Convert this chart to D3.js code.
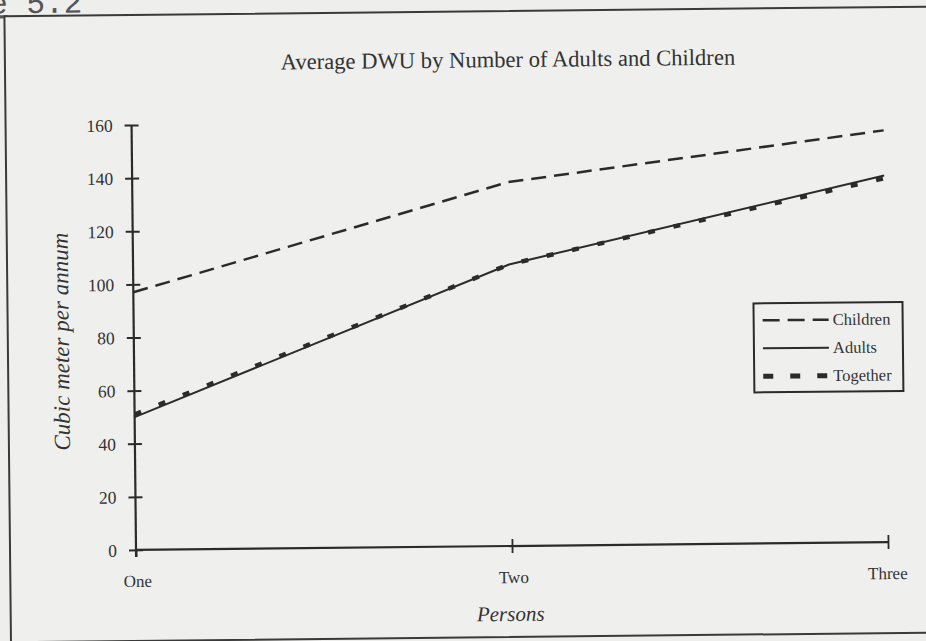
<!DOCTYPE html>
<html>
<head>
<meta charset="utf-8">
<script src="https://cdn.jsdelivr.net/npm/d3@7/dist/d3.min.js"></script>
<style>
  html, body { margin: 0; padding: 0; background: #eeeeec; }
  svg { display: block; }
</style>
</head>
<body>
<svg id="chart" width="926" height="641"></svg>
<script>
// Average DWU (cubic meters per annum) by household size
const categories = ["One", "Two", "Three"];
const children = [97, 137, 155];
const adults = [50, 106, 138];
const together = [51, 106, 137];
const yTicks = [0, 20, 40, 60, 80, 100, 120, 140, 160];
const seriesNames = ["Children", "Adults", "Together"];

const W = 926, H = 641;
const serif = "'Liberation Serif', 'Times New Roman', serif";
const ink = "#2b2b2b";

const svg = d3.select("#chart");
svg.append("rect").attr("width", W).attr("height", H).attr("fill", "#eeeeec");

// the whole sheet sits at a slight tilt
const page = svg.append("g").attr("transform", "rotate(-0.6, 512, 546)");

// figure number above the frame
page.append("text")
  .attr("x", 88).attr("y", 8)
  .attr("text-anchor", "end")
  .attr("font-family", "'Liberation Mono', 'Courier New', monospace")
  .attr("font-size", 31)
  .attr("fill", "#555")
  .html('<tspan text-decoration="underline">Figure</tspan> 5.2');

// frame
page.append("rect")
  .attr("x", 10).attr("y", 11).attr("width", 940).attr("height", 626)
  .attr("fill", "#efefed").attr("stroke", "#3a3a3a").attr("stroke-width", 2);

const x = d3.scalePoint().domain(categories).range([136, 888]);
const y = d3.scaleLinear().domain([0, 160]).range([546, 121]);

// title
page.append("text")
  .attr("x", 513).attr("y", 67)
  .attr("text-anchor", "middle")
  .attr("font-family", serif).attr("font-size", 22.6)
  .attr("fill", "#333")
  .text("Average DWU by Number of Adults and Children");

// y axis
const yAxis = page.append("g")
  .attr("transform", `translate(${x("One")},0)`)
  .call(d3.axisLeft(y).tickValues(yTicks).tickSize(7).tickSizeOuter(0).tickPadding(12));
yAxis.select(".domain").attr("stroke", ink).attr("stroke-width", 2.2)
  .attr("d", `M0,${y(160)}V${y(0) + 7}`);
yAxis.selectAll(".tick line").attr("x1", 7).attr("stroke", ink).attr("stroke-width", 2);
yAxis.selectAll(".tick text")
  .attr("font-family", serif).attr("font-size", 17.5).attr("fill", "#333")
  .attr("dy", "0.34em");

// x axis
const xAxis = page.append("g")
  .attr("transform", `translate(0,${y(0)})`)
  .call(d3.axisBottom(x).tickSize(7).tickSizeOuter(0));
xAxis.select(".domain").attr("stroke", ink).attr("stroke-width", 2.2)
  .attr("d", `M${x("One")},0H${x("Three")}`);
xAxis.selectAll(".tick line")
  .attr("y1", d => d === "One" ? 0 : -7)
  .attr("stroke", ink).attr("stroke-width", 1.8);
xAxis.selectAll(".tick text")
  .attr("font-family", serif).attr("font-size", 17).attr("fill", "#333")
  .attr("y", 37).attr("dy", 0)
  .attr("dx", d => d === "Three" ? -1 : 1);

// axis titles
page.append("text")
  .attr("x", 510).attr("y", 621)
  .attr("text-anchor", "middle")
  .attr("font-family", serif).attr("font-style", "italic").attr("font-size", 21)
  .attr("fill", "#333")
  .text("Persons");

page.append("text")
  .attr("transform", "translate(71,337) rotate(-90)")
  .attr("text-anchor", "middle")
  .attr("font-family", serif).attr("font-style", "italic").attr("font-size", 23)
  .attr("fill", "#333")
  .text("Cubic meter per annum");

// series
const series = [
  { name: seriesNames[0], values: children, dash: "15,8", width: 2.5 },
  { name: seriesNames[1], values: adults, dash: null, width: 2 },
  { name: seriesNames[2], values: together, dash: "7,19", width: 4.5 }
];

const line = d3.line()
  .x((d, i) => x(categories[i]))
  .y(d => y(d));

page.selectAll("path.series")
  .data(series)
  .join("path")
  .attr("class", "series")
  .attr("d", d => line(d.values))
  .attr("fill", "none")
  .attr("stroke", ink)
  .attr("stroke-width", d => d.width)
  .attr("stroke-dasharray", d => d.dash);

// legend
const legend = page.append("g");
legend.append("rect")
  .attr("x", 756).attr("y", 306).attr("width", 149).attr("height", 89)
  .attr("fill", "none").attr("stroke", ink).attr("stroke-width", 2);

const legendDash = ["17,8", null, "10,17"];
const rows = legend.selectAll("g.row")
  .data(series)
  .join("g")
  .attr("class", "row")
  .attr("transform", (d, i) => `translate(0,${323 + i * 28})`);
rows.append("line")
  .attr("x1", 765).attr("x2", 831)
  .attr("stroke", ink)
  .attr("stroke-width", (d, i) => i === 2 ? 5 : d.width)
  .attr("stroke-dasharray", (d, i) => legendDash[i]);
rows.append("text")
  .attr("x", 835).attr("y", 0).attr("dy", "0.33em")
  .attr("font-family", serif).attr("font-size", 16.5).attr("fill", "#333")
  .text(d => d.name);
</script>
</body>
</html>
